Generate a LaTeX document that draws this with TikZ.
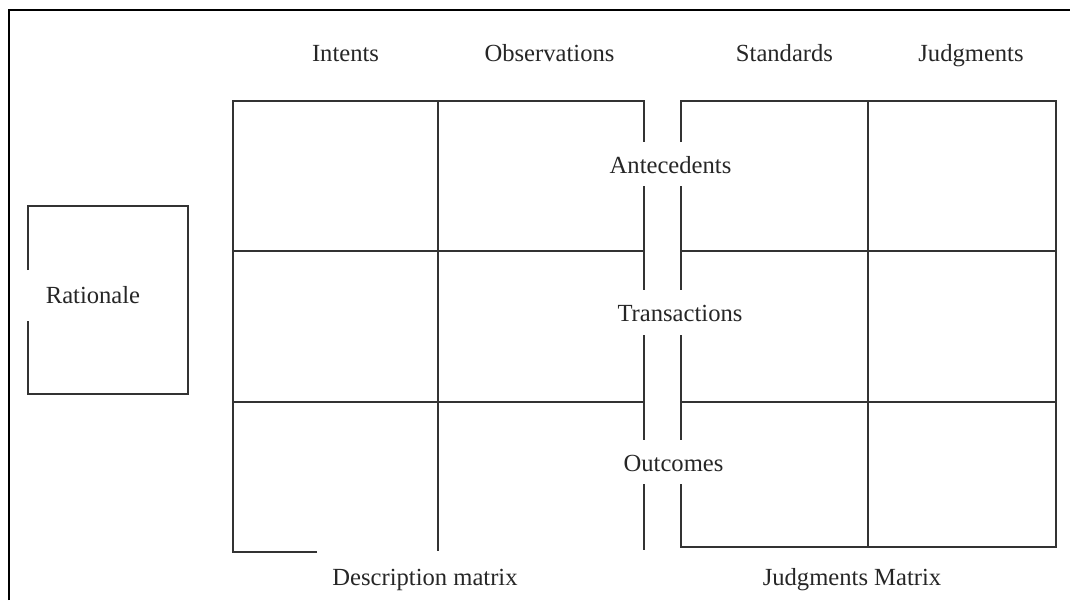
\documentclass[tikz,border=0pt]{standalone}
\usepackage{fontspec}
\setmainfont{Liberation Serif}
\usepackage{tikz}

\begin{document}
\begin{tikzpicture}[x=0.025cm, y=-0.025cm,
	lbl/.style={inner sep=0pt, text height=12pt, text depth=3pt, yshift=-1.5pt, font=\fontsize{17.5}{21}\selectfont, text=black!85},
	grid/.style={line width=0.8pt, draw=black!80}]
				\useasboundingbox (0,0) rectangle (1071,600);
				% outer frame (top and left only)
				\draw[line width=1.6pt] (9,600) -- (9,10) -- (1070,10);
				% column heads
				\node[lbl] (int) at(345.5,53){Intents};
				\node[lbl] (obs) at(549.5,53){Observations};
				\node[lbl] (std) at(784.5,53){Standards};
				\node[lbl] (jdg) at(971,53){Judgments};
				% row heads
				\node[lbl] (ant) at(670.5,165){Antecedents};
				\node[lbl] (tra) at(680,313){Transactions};
				\node[lbl] (out) at(673.5,463){Outcomes};
				% rationale box
				\node[lbl] (rat) at(93,295){Rationale};
				\draw[grid] (28,270) -- (28,206) -- (188,206) -- (188,394) -- (28,394) -- (28,321);
				% description matrix
				\draw[grid] (317,552) -- (233,552) -- (233,101) -- (644,101) -- (644,142);
				\draw[grid] (438,101) -- (438,551);
				\draw[grid] (233,251) -- (644,251);
				\draw[grid] (233,402) -- (644,402);
				\draw[grid] (644,186) -- (644,290);
				\draw[grid] (644,335) -- (644,440);
				\draw[grid] (644,484) -- (644,550);
				\node[lbl] (dm) at(425,577){Description matrix};
				% judgments matrix
				\draw[grid] (681,142) -- (681,101) -- (1056,101) -- (1056,547) -- (681,547) -- (681,484);
				\draw[grid] (868,101) -- (868,547);
				\draw[grid] (681,251) -- (1056,251);
				\draw[grid] (681,402) -- (1056,402);
				\draw[grid] (681,186) -- (681,290);
				\draw[grid] (681,335) -- (681,440);
				\node[lbl] (jm) at(852,577){Judgments Matrix};
			\end{tikzpicture}
\end{document}
